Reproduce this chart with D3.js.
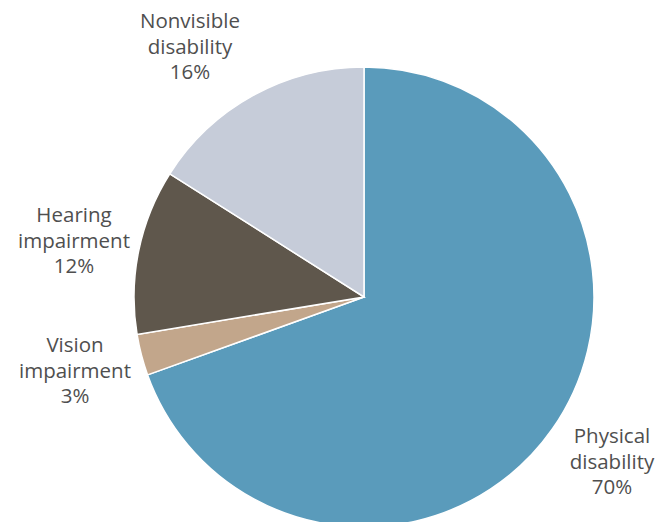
<!DOCTYPE html>
<html>
<head>
<meta charset="utf-8">
<style>
body { margin: 0; background: #fff; }
text { font-family: "Open Sans", sans-serif; font-size: 20.5px; fill: #4f4f4f; text-anchor: middle; }
</style>
</head>
<body>
<svg id="chart" width="656" height="522"></svg>
<script src="https://cdnjs.cloudflare.com/ajax/libs/d3/7.8.5/d3.min.js"></script>
<script>
// share of each category, clockwise from 12 o'clock
const categories = ["Physical disability", "Vision impairment", "Hearing impairment", "Nonvisible disability"];
const values = [69.5, 2.9, 11.6, 16.0];
const valueLabels = ["70%", "3%", "12%", "16%"];
const colors = ["#5a9bbb", "#c2a68b", "#5f574c", "#c6ccd9"];

// label lines and anchor points
const labelLines = [
  ["Physical", "disability"],
  ["Vision", "impairment"],
  ["Hearing", "impairment"],
  ["Nonvisible", "disability"]
];
const labelPos = [[612, 443], [75, 352], [74, 222], [190, 28]];

const svg = d3.select("#chart");
const cx = 364, cy = 297, r = 230;

const pie = d3.pie().sort(null).value(d => d)(values);
const arc = d3.arc().innerRadius(0).outerRadius(r);

const g = svg.append("g").attr("transform", `translate(${cx},${cy})`);
g.selectAll("path")
  .data(pie)
  .enter()
  .append("path")
  .attr("d", arc)
  .attr("fill", (d, i) => colors[i])
  .attr("stroke", "#fff")
  .attr("stroke-width", 1.5);

categories.forEach((c, i) => {
  const t = svg.append("text")
    .attr("x", labelPos[i][0])
    .attr("y", labelPos[i][1]);
  labelLines[i].concat([valueLabels[i]]).forEach((line, j) => {
    t.append("tspan")
      .attr("x", labelPos[i][0])
      .attr("dy", j === 0 ? 0 : 25.5)
      .text(line);
  });
});
</script>
</body>
</html>
